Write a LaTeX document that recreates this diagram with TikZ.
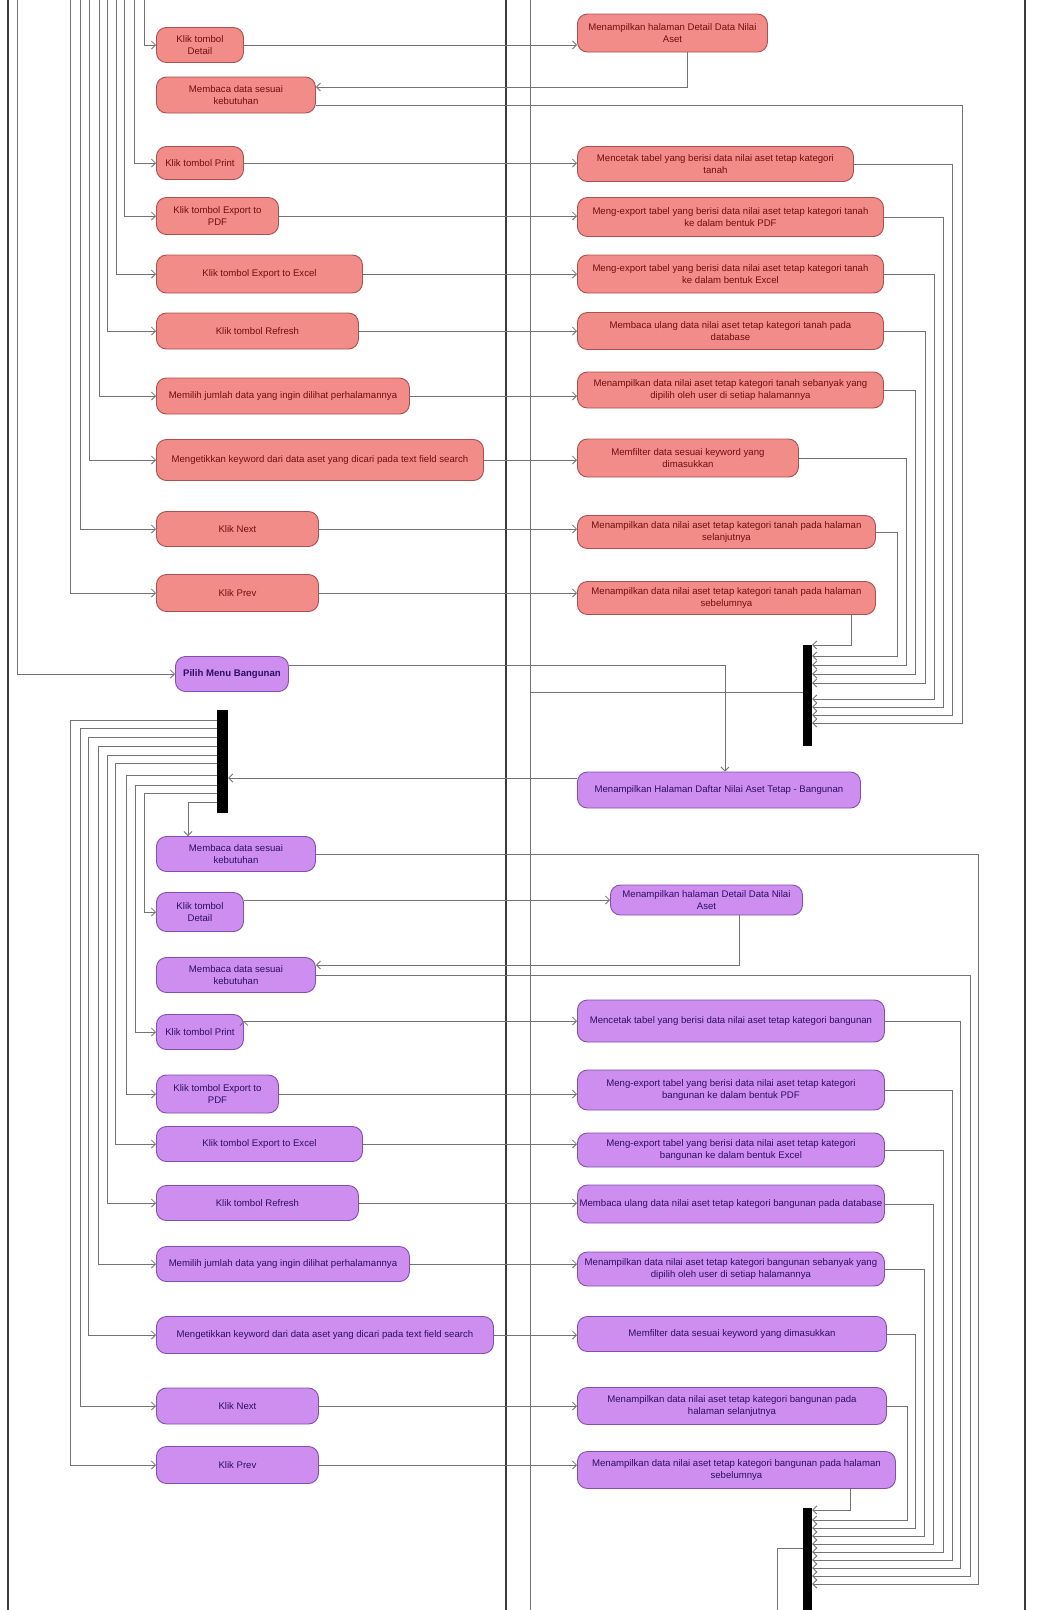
\documentclass[tikz,border=0pt]{standalone}
\usepackage{fontspec}
\setmainfont{Liberation Sans}
\usepackage{tikz}
\usetikzlibrary{arrows.meta,positioning}

\definecolor{tanahfill}{RGB}{242,140,136}
\definecolor{tanahdraw}{RGB}{170,80,80}
\definecolor{tanahtext}{RGB}{110,15,15}
\definecolor{bangunfill}{RGB}{206,142,240}
\definecolor{bangundraw}{RGB}{130,80,170}
\definecolor{banguntext}{RGB}{45,15,95}
\definecolor{wiregray}{RGB}{115,115,115}
\definecolor{lanegray}{RGB}{60,60,60}

\begin{document}
\begin{tikzpicture}[x=1pt,y=-1pt,
    act/.style={rounded corners=10pt,anchor=west,align=center,inner sep=2pt,line width=0.9pt,font=\fontsize{9.6}{12.5}\selectfont},
    tanah/.style={act,fill=tanahfill,draw=tanahdraw,text=tanahtext},
    bangun/.style={act,fill=bangunfill,draw=bangundraw,text=banguntext},
    bar/.style={fill=black,inner sep=0pt,minimum width=9pt},
    flow/.style={draw=wiregray,line width=0.8pt,-{Straight Barb[length=4pt,width=8pt]}},
    wire/.style={draw=wiregray,line width=0.8pt},
    lane/.style={draw=lanegray,line width=2pt}]
    \useasboundingbox (0,0) rectangle (1044,1610);
    \fill[white] (0,0) rectangle (1044,1610);

    \draw[lane] (8,0) -- (8,1610);
    \draw[lane] (506,0) -- (506,1610);
    \draw[lane] (1025,0) -- (1025,1610);

    % kategori tanah
    \node[tanah,minimum width=87pt,minimum height=35pt] (kDetailA) at (156,45) {Klik tombol\\Detail};
    \node[tanah,minimum width=159pt,minimum height=36pt] (kBacaA) at (156,95) {Membaca data sesuai\\kebutuhan};
    \node[tanah,minimum width=87pt,minimum height=33pt] (kPrintA) at (156,163) {Klik tombol Print};
    \node[tanah,minimum width=122pt,minimum height=37pt] (kPdfA) at (156,216) {Klik tombol Export to\\PDF};
    \node[tanah,minimum width=206pt,minimum height=38pt] (kXlsA) at (156,274) {Klik tombol Export to Excel};
    \node[tanah,minimum width=202pt,minimum height=36pt] (kRefA) at (156,331) {Klik tombol Refresh};
    \node[tanah,minimum width=253pt,minimum height=36pt] (kJmlA) at (156,396) {Memilih jumlah data yang ingin dilihat perhalamannya};
    \node[tanah,minimum width=327pt,minimum height=41pt] (kCariA) at (156,460) {Mengetikkan keyword dari data aset yang dicari pada text field search};
    \node[tanah,minimum width=162pt,minimum height=35pt] (kNextA) at (156,529) {Klik Next};
    \node[tanah,minimum width=162pt,minimum height=37pt] (kPrevA) at (156,593) {Klik Prev};

    \node[tanah,minimum width=190pt,minimum height=38pt] (tDetailA) at (577,33) {Menampilkan halaman Detail Data Nilai\\Aset};
    \node[tanah,minimum width=276pt,minimum height=35pt] (tPrintA) at (577,164) {Mencetak tabel yang berisi data nilai aset tetap kategori\\tanah};
    \node[tanah,minimum width=306pt,minimum height=39pt] (tPdfA) at (577,217) {Meng-export tabel yang berisi data nilai aset tetap kategori tanah\\ke dalam bentuk PDF};
    \node[tanah,minimum width=306pt,minimum height=38pt] (tXlsA) at (577,274) {Meng-export tabel yang berisi data nilai aset tetap kategori tanah\\ke dalam bentuk Excel};
    \node[tanah,minimum width=306pt,minimum height=37pt] (tRefA) at (577,331) {Membaca ulang data nilai aset tetap kategori tanah pada\\database};
    \node[tanah,minimum width=306pt,minimum height=36pt] (tJmlA) at (577,390) {Menampilkan data nilai aset tetap kategori tanah sebanyak yang\\dipilih oleh user di setiap halamannya};
    \node[tanah,minimum width=221pt,minimum height=38pt] (tCariA) at (577,458) {Memfilter data sesuai keyword yang\\dimasukkan};
    \node[tanah,minimum width=298pt,minimum height=33pt] (tNextA) at (577,532) {Menampilkan data nilai aset tetap kategori tanah pada halaman\\selanjutnya};
    \node[tanah,minimum width=298pt,minimum height=33pt] (tPrevA) at (577,598) {Menampilkan data nilai aset tetap kategori tanah pada halaman\\sebelumnya};

    \node[bar,minimum height=101pt] (join1) at (807.5,695.5) {};

    % kategori bangunan
    \node[bangun,minimum width=113pt,minimum height=35pt] (pilih) at (175,674) {\textbf{Pilih Menu Bangunan}};
    \node[bangun,minimum width=283pt,minimum height=36pt] (tDaftar) at (577,790) {Menampilkan Halaman Daftar Nilai Aset Tetap - Bangunan};
    \node[bar,minimum width=11pt,minimum height=103pt] (fork2) at (222.5,761.5) {};

    \node[bangun,minimum width=159pt,minimum height=35pt] (kBacaB1) at (156,854) {Membaca data sesuai\\kebutuhan};
    \node[bangun,minimum width=87pt,minimum height=39pt] (kDetailB) at (156,912) {Klik tombol\\Detail};
    \node[bangun,minimum width=159pt,minimum height=35pt] (kBacaB2) at (156,975) {Membaca data sesuai\\kebutuhan};
    \node[bangun,minimum width=87pt,minimum height=35pt] (kPrintB) at (156,1032) {Klik tombol Print};
    \node[bangun,minimum width=122pt,minimum height=38pt] (kPdfB) at (156,1094) {Klik tombol Export to\\PDF};
    \node[bangun,minimum width=206pt,minimum height=35pt] (kXlsB) at (156,1144) {Klik tombol Export to Excel};
    \node[bangun,minimum width=202pt,minimum height=35pt] (kRefB) at (156,1203) {Klik tombol Refresh};
    \node[bangun,minimum width=253pt,minimum height=35pt] (kJmlB) at (156,1264) {Memilih jumlah data yang ingin dilihat perhalamannya};
    \node[bangun,minimum width=337pt,minimum height=37pt] (kCariB) at (156,1335) {Mengetikkan keyword dari data aset yang dicari pada text field search};
    \node[bangun,minimum width=162pt,minimum height=36pt] (kNextB) at (156,1406) {Klik Next};
    \node[bangun,minimum width=162pt,minimum height=37pt] (kPrevB) at (156,1465) {Klik Prev};

    \node[bangun,minimum width=192pt,minimum height=30pt] (tDetailB) at (610,900) {Menampilkan halaman Detail Data Nilai\\Aset};
    \node[bangun,minimum width=307pt,minimum height=42pt] (tPrintB) at (577,1021) {Mencetak tabel yang berisi data nilai aset tetap kategori bangunan};
    \node[bangun,minimum width=307pt,minimum height=40pt] (tPdfB) at (577,1090) {Meng-export tabel yang berisi data nilai aset tetap kategori\\bangunan ke dalam bentuk PDF};
    \node[bangun,minimum width=307pt,minimum height=34pt] (tXlsB) at (577,1150) {Meng-export tabel yang berisi data nilai aset tetap kategori\\bangunan ke dalam bentuk Excel};
    \node[bangun,minimum width=307pt,minimum height=38pt] (tRefB) at (577,1204) {Membaca ulang data nilai aset tetap kategori bangunan pada database};
    \node[bangun,minimum width=307pt,minimum height=34pt] (tJmlB) at (577,1269) {Menampilkan data nilai aset tetap kategori bangunan sebanyak yang\\dipilih oleh user di setiap halamannya};
    \node[bangun,minimum width=309pt,minimum height=35pt] (tCariB) at (577,1334) {Memfilter data sesuai keyword yang dimasukkan};
    \node[bangun,minimum width=309pt,minimum height=37pt] (tNextB) at (577,1406) {Menampilkan data nilai aset tetap kategori bangunan pada\\halaman selanjutnya};
    \node[bangun,minimum width=318pt,minimum height=37pt] (tPrevB) at (577,1470) {Menampilkan data nilai aset tetap kategori bangunan pada halaman\\sebelumnya};

    \node[bar,minimum height=110pt] (join3) at (807.5,1563) {};

    % alur tanah
    \foreach \x/\t in {144/kDetailA,134/kPrintA,124/kPdfA,116/kXlsA,107/kRefA,99/kJmlA,89/kCariA,80/kNextA,70/kPrevA}{
        \coordinate (in-\t) at (\x,0);
        \draw[flow] (in-\t) |- (\t);
    }
    \coordinate (in-pilih) at (17,0);
    \draw[flow] (in-pilih) |- (pilih);

    \path[flow]
    (kDetailA) edge (kDetailA -| tDetailA.west)
    (kPrintA) edge (kPrintA -| tPrintA.west)
    (kPdfA) edge (kPdfA -| tPdfA.west)
    (kXlsA) edge (kXlsA -| tXlsA.west)
    (kRefA) edge (kRefA -| tRefA.west)
    (kJmlA) edge (kJmlA -| tJmlA.west)
    (kCariA) edge (kCariA -| tCariA.west)
    (kNextA) edge (kNextA -| tNextA.west)
    (kPrevA) edge (kPrevA -| tPrevA.west);

    \draw[flow] ([xshift=15pt]tDetailA.south) |- ([yshift=8pt]kBacaA.east);
    \draw[flow] ([yshift=-10pt]kBacaA.east) -| (962,723) -- (join1.east |- 0,723);
    \foreach \s/\x/\y in {tNextA/897/656,tCariA/906/665,tJmlA/915/674,tRefA/925/683,tXlsA/934/699,tPdfA/943/707,tPrintA/952/715}
        \draw[flow] (\s) -| (\x,\y) -- (join1.east |- 0,\y);
    \draw[flow] (tPrevA.south -| 851,0) |- (join1.east |- 0,645);

    \coordinate (atas) at (530,0);
    \coordinate (bawah) at (530,1610);
    \draw[wire] (join1.west |- 0,692) -| (atas);
    \draw[wire] (bawah) -- (530,692);

    % alur bangunan
    \draw[flow] ([yshift=9pt]pilih.east) -| ([xshift=6pt]tDaftar.north);
    \draw[flow] ([yshift=12pt]tDaftar.west) -- ([yshift=12pt]tDaftar.west -| fork2.east);
    \foreach \t/\x/\y in {kPrevB/70/720,kNextB/80/728,kCariB/88/737,kJmlB/98/746,kRefB/107/755,kXlsB/115/763,kPdfB/126/775,kPrintB/135/785,kDetailB/144/793}
        \draw[flow] (fork2.west |- 0,\y) -- (\x,\y) |- (\t);
    \draw[flow] (fork2.west |- 0,802) -| (kBacaB1.north -| 188,0);

    \path[flow]
    (tDetailB.west -| kDetailB.east) edge (tDetailB.west)
    (tPrintB.west -| kPrintB.east) edge (tPrintB.west)
    (kPdfB) edge (kPdfB -| tPdfB.west)
    (kXlsB) edge (kXlsB -| tXlsB.west)
    (kRefB) edge (kRefB -| tRefB.west)
    (kJmlB) edge (kJmlB -| tJmlB.west)
    (kCariB) edge (kCariB -| tCariB.west)
    (kNextB) edge (kNextB -| tNextB.west)
    (kPrevB) edge (kPrevB -| tPrevB.west);

    \draw[flow] ([xshift=33pt]tDetailB.south) |- ([yshift=10pt]kBacaB2.east);
    \foreach \s/\x/\y in {tNextB/907/1520,tCariB/915/1528,tJmlB/924/1536,tRefB/933/1544,tXlsB/943/1552,tPdfB/952/1560,tPrintB/960/1568,kBacaB2/970/1576,kBacaB1/978/1584}
        \draw[flow] (\s) -| (\x,\y) -- (join3.east |- 0,\y);
    \draw[flow] (tPrevB.south -| 850,0) |- (join3.east |- 0,1510);

    \coordinate (keluar) at (777,1610);
    \draw[wire] (join3.west |- 0,1548) -| (keluar);
\end{tikzpicture}
\end{document}
